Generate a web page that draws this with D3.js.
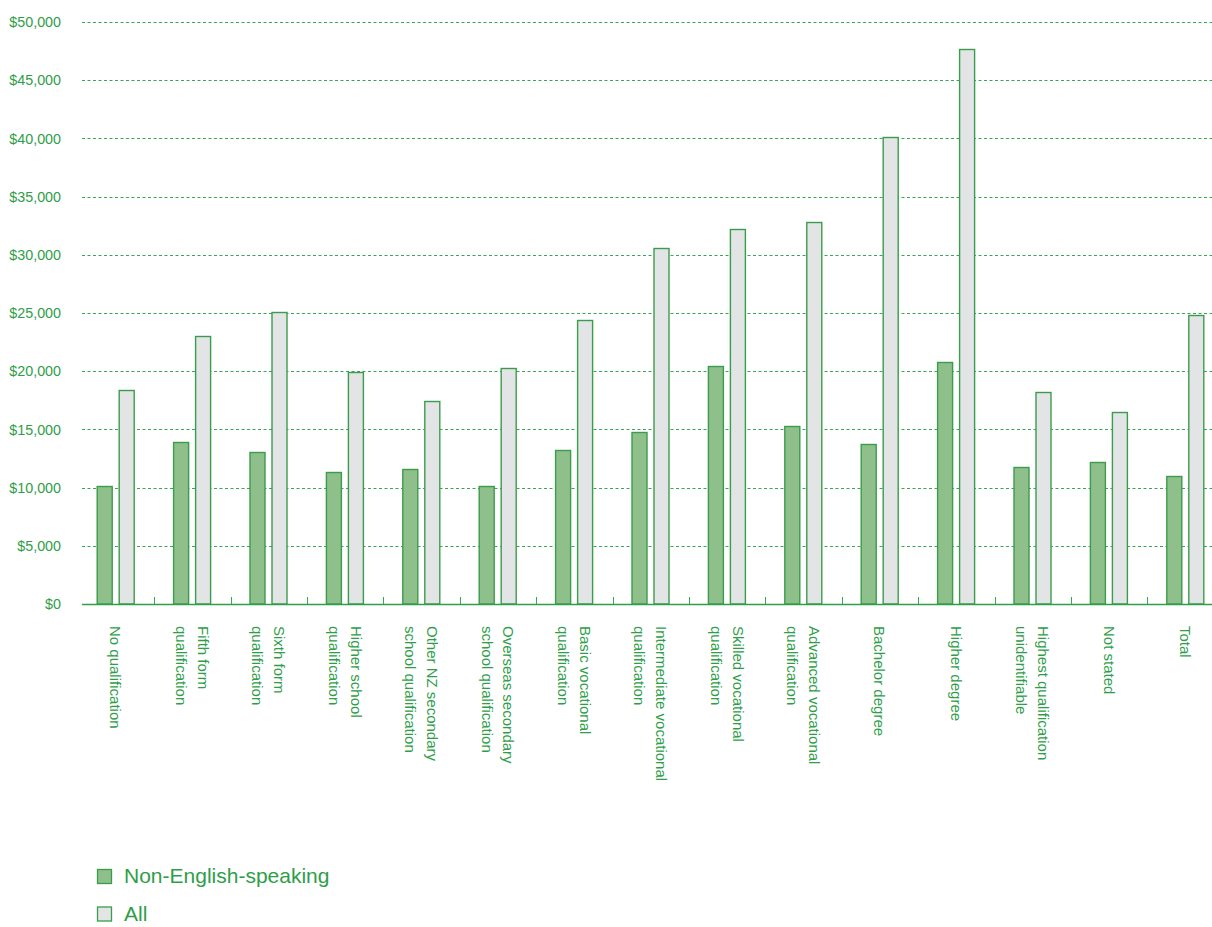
<!DOCTYPE html>
<html>
<head>
<meta charset="utf-8">
<script src="https://cdn.jsdelivr.net/npm/d3@7"></script>
<style>
  body { margin: 0; background: #fff; }
  svg text { font-family: "Liberation Sans", Arial, sans-serif; fill: #2e9e48; }
</style>
</head>
<body>
<div id="chart"></div>
<script>
// data
var categories = [
  "No qualification",
  "Fifth form|qualification",
  "Sixth form|qualification",
  "Higher school|qualification",
  "Other NZ secondary|school qualification",
  "Overseas secondary|school qualification",
  "Basic vocational|qualification",
  "Intermediate vocational|qualification",
  "Skilled vocational|qualification",
  "Advanced vocational|qualification",
  "Bachelor degree",
  "Higher degree",
  "Highest qualification|unidentifiable",
  "Not stated",
  "Total"
];
var seriesNames = ["Non-English-speaking", "All"];
var nonEnglish = [10100, 13900, 13100, 11300, 11600, 10100, 13200, 14800, 20450, 15300, 13750, 20800, 11750, 12200, 11000];
var allPeople  = [18400, 23000, 25100, 19900, 17400, 20300, 24400, 30600, 32200, 32800, 40100, 47700, 18200, 16500, 24800];
var yTicks = [0, 5000, 10000, 15000, 20000, 25000, 30000, 35000, 40000, 45000, 50000];

var fills = {"Non-English-speaking": "#8fc08b", "All": "#e3e4e6"};
var strokeGreen = "#3a9d4b";

var width = 1212, height = 927;
var svg = d3.select("#chart").append("svg")
    .attr("width", width)
    .attr("height", height);

var y = d3.scaleLinear().domain([0, 50000]).range([604, 22]);

var x = d3.scaleBand()
    .domain(categories)
    .range([77.7, 77.7 + 15 * 76.4])
    .paddingInner(0).paddingOuter(0);

var x1 = d3.scaleBand()
    .domain(seriesNames)
    .range([19, 57])
    .paddingInner(0.2727).paddingOuter(0);

// gridlines
svg.append("g").selectAll("line")
  .data(yTicks.filter(function(d) { return d > 0; }))
  .enter().append("line")
    .attr("x1", 82).attr("x2", width)
    .attr("y1", function(d) { return Math.round(y(d)) + 0.5; })
    .attr("y2", function(d) { return Math.round(y(d)) + 0.5; })
    .attr("stroke", "#3aa655")
    .attr("stroke-width", 1)
    .attr("stroke-dasharray", "3,2.5");

// y labels
svg.append("g").selectAll("text")
  .data(yTicks)
  .enter().append("text")
    .attr("x", 61)
    .attr("y", function(d) { return y(d); })
    .attr("dy", "0.36em")
    .attr("text-anchor", "end")
    .style("font-size", "14.3px")
    .text(function(d) { return "$" + d3.format(",")(d); });

// bars
var rows = categories.map(function(c, i) {
  return {cat: c, values: [
    {key: seriesNames[0], value: nonEnglish[i]},
    {key: seriesNames[1], value: allPeople[i]}
  ]};
});

var groups = svg.append("g").selectAll("g")
  .data(rows)
  .enter().append("g")
    .attr("transform", function(d) { return "translate(" + x(d.cat) + ",0)"; });

groups.selectAll("rect")
  .data(function(d) { return d.values; })
  .enter().append("rect")
    .attr("x", function(d) { return x1(d.key) + 0.5; })
    .attr("y", function(d) { return Math.round(y(d.value)) + 0.5; })
    .attr("width", x1.bandwidth() - 1)
    .attr("height", function(d) { return 604 - Math.round(y(d.value)) - 0.5; })
    .attr("fill", function(d) { return fills[d.key]; })
    .attr("stroke", strokeGreen)
    .attr("stroke-width", 1.4);

// x axis line + ticks between categories
svg.append("line")
  .attr("x1", 82).attr("x2", width)
  .attr("y1", 604.5).attr("y2", 604.5)
  .attr("stroke", "#2e9e48")
  .attr("stroke-width", 1.5);

svg.append("g").selectAll("line")
  .data(categories.slice(1))
  .enter().append("line")
    .attr("x1", function(d) { return Math.round(x(d)) + 0.5; })
    .attr("x2", function(d) { return Math.round(x(d)) + 0.5; })
    .attr("y1", 597).attr("y2", 604)
    .attr("stroke", "#3aa655")
    .attr("stroke-width", 1);

// category labels, rotated to read downwards
var labels = svg.append("g").selectAll("text")
  .data(categories)
  .enter().append("text")
    .attr("transform", function(d) {
      return "translate(" + (x(d) + x.bandwidth() / 2) + ",626) rotate(90)";
    })
    .style("font-size", "15px")
    .attr("text-anchor", "start");

labels.each(function(d) {
  var lines = d.split("|");
  var t = d3.select(this);
  lines.forEach(function(line, i) {
    t.append("tspan")
      .attr("x", 0)
      .attr("y", (i - (lines.length - 1) / 2) * 22)
      .attr("dy", "0.36em")
      .text(line);
  });
});

// legend
var legend = svg.append("g").selectAll("g")
  .data(seriesNames)
  .enter().append("g")
    .attr("transform", function(d, i) { return "translate(97," + (869 + i * 37.5) + ")"; });

legend.append("rect")
  .attr("x", 0.5).attr("y", 0.5)
  .attr("width", 14).attr("height", 14)
  .attr("fill", function(d) { return fills[d]; })
  .attr("stroke", strokeGreen)
  .attr("stroke-width", 1.3);

legend.append("text")
  .attr("x", 27)
  .attr("y", 14)
  .style("font-size", "21px")
  .text(function(d) { return d; });
</script>
</body>
</html>
